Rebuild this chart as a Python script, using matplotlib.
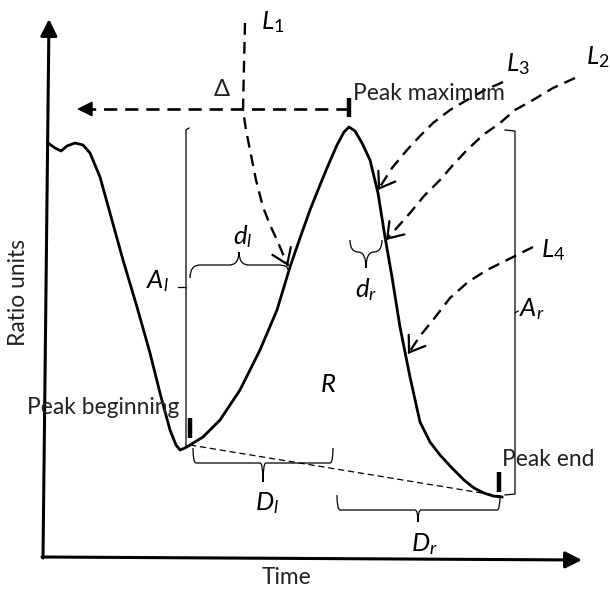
import matplotlib.pyplot as plt
from matplotlib.path import Path
from matplotlib.patches import PathPatch

# everything is laid out in picture pixels: x to the right, y downwards
W, H = 610, 592

# the ratio trace
curve_x = [48, 55, 61, 67, 75, 83, 90, 100, 110, 123, 137, 150, 160, 170, 176, 180,
           185, 190, 203, 220, 240, 260, 277, 290, 300, 310, 320, 327, 337, 344, 349,
           355, 362, 370, 378, 385, 392, 400, 410, 420, 430, 440, 452, 464, 474, 484, 493, 502]
curve_y = [143, 148, 151, 146, 143, 145, 153, 177, 213, 260, 307, 353, 393, 430, 445, 450,
           448, 445, 437, 420, 390, 350, 310, 267, 238, 210, 185, 168, 145, 132, 127,
           131, 143, 160, 193, 237, 277, 327, 377, 422, 442, 455, 468, 480, 488, 493, 496, 497]

# dashed pointer lines (start ... tip)
l1_x = [245, 244, 243, 246, 250, 256, 263, 270, 277, 288]
l1_y = [23, 65, 110, 130, 150, 180, 207, 225, 240, 266]
l2_x = [575, 553, 533, 515, 500, 483, 467, 453, 440, 424, 410, 386]
l2_y = [78, 88, 100, 110, 123, 135, 150, 165, 180, 196, 213, 240]
l3_x = [503, 485, 467, 450, 433, 420, 407, 392, 378]
l3_y = [82, 90, 100, 110, 123, 136, 150, 168, 190]
l4_x = [533, 513, 487, 468, 450, 433, 420, 408]
l4_y = [247, 257, 270, 282, 298, 320, 336, 354]

# markers: (x, y_top, y_bottom)
peak_begin = (190, 418, 438)
peak_max = (349, 98, 117)
peak_end = (499, 472, 492)

base_x = [190, 500]
base_y = [445, 496]

label_font = "Lato"
TXT = 16.4   # plain text size
SYM = 18.5   # italic symbol size
PX = 72 / 100  # points per pixel

plt.rcParams["font.family"] = [label_font, "DejaVu Sans"]
plt.rcParams["mathtext.fontset"] = "custom"
plt.rcParams["mathtext.rm"] = label_font
plt.rcParams["mathtext.it"] = label_font + ":italic"


def brace(ax, x0, x1, y_flat, y_end0, y_end1, y_tip, xm=None, r=7, lw=0.9):
    if xm is None:
        xm = (x0 + x1) / 2
    verts = [
        (x0, y_end0), (x0, y_flat), (x0 + r, y_flat),
        (xm - r, y_flat),
        (xm, y_flat), (xm, y_tip),
        (xm, y_flat), (xm + r, y_flat),
        (x1 - r, y_flat),
        (x1, y_flat), (x1, y_end1),
    ]
    codes = [Path.MOVETO, Path.CURVE3, Path.CURVE3,
             Path.LINETO,
             Path.CURVE3, Path.CURVE3,
             Path.CURVE3, Path.CURVE3,
             Path.LINETO,
             Path.CURVE3, Path.CURVE3]
    ax.add_patch(PathPatch(Path(verts, codes), fill=False, lw=lw, color="black"))


def pointer(ax, xs, ys):
    ax.plot(xs, ys, color="black", lw=1.7, linestyle=(0, (5, 3)), solid_capstyle="butt")
    dx = xs[-1] - xs[-2]
    dy = ys[-1] - ys[-2]
    n = (dx * dx + dy * dy) ** 0.5
    ax.annotate("", xy=(xs[-1], ys[-1]), xytext=(xs[-1] - dx / n * 2, ys[-1] - dy / n * 2),
                arrowprops=dict(arrowstyle="->,head_length=0.72,head_width=0.5", lw=1.6,
                                color="black", shrinkA=0, shrinkB=0, mutation_scale=20 * PX))


def solid_head(ax, tip, tail, length_px, half_px, lw):
    ax.annotate("", xy=tip, xytext=tail,
                arrowprops=dict(arrowstyle=f"-|>,head_length={length_px / 20},head_width={half_px / 20}",
                                lw=lw, color="black", shrinkA=0, shrinkB=0,
                                mutation_scale=20 * PX))


fig = plt.figure(figsize=(W / 100, H / 100), dpi=100)
ax = fig.add_axes([0, 0, 1, 1])
ax.set_xlim(0, W)
ax.set_ylim(H, 0)
ax.axis("off")

# axes with arrows
solid_head(ax, (49, 19), (43, 558), 14, 7, 2.2)
solid_head(ax, (582, 560), (42, 557), 14, 7, 2.2)
ax.text(19, 292, "Ratio units", rotation=90, ha="center", va="center", fontsize=TXT, color="#222222")
ax.text(287, 577, "Time", ha="center", va="center", fontsize=TXT, color="#222222")

# baseline and curve
ax.plot(base_x, base_y, color="black", lw=0.9, linestyle=(0, (5, 3)))
ax.plot(curve_x, curve_y, color="black", lw=2.0, solid_joinstyle="round")

# delta arrow
ax.plot([349, 88], [109, 109], color="black", lw=1.9, linestyle=(0, (5, 3)))
solid_head(ax, (77, 109), (92, 109), 13, 6.5, 1.2)
ax.text(222, 89, "Δ", ha="center", va="center", fontsize=17, color="#222222")

# markers
for mx, my0, my1 in (peak_begin, peak_max, peak_end):
    ax.plot([mx, mx], [my0, my1], color="black", lw=3.2, solid_capstyle="butt")
ax.text(27, 408, "Peak beginning", ha="left", va="center", fontsize=TXT, color="#222222")
ax.text(353, 94, "Peak maximum", ha="left", va="center", fontsize=TXT, color="#222222")
ax.text(502, 459, "Peak end", ha="left", va="center", fontsize=TXT, color="#222222")

# pointers
pointer(ax, l1_x, l1_y)
pointer(ax, l2_x, l2_y)
pointer(ax, l3_x, l3_y)
pointer(ax, l4_x, l4_y)
ax.text(273, 22, r"$L_{\mathrm{1}}$", ha="center", va="center", fontsize=SYM)
ax.text(518, 64, r"$L_{\mathrm{3}}$", ha="center", va="center", fontsize=SYM)
ax.text(598, 57, r"$L_{\mathrm{2}}$", ha="center", va="center", fontsize=SYM)
ax.text(553, 250, r"$L_{\mathrm{4}}$", ha="center", va="center", fontsize=SYM)

# vertical brackets
ax.plot([189, 186, 186], [128, 130, 447], color="black", lw=0.9)
ax.plot([178, 186], [287, 287], color="black", lw=0.9)
ax.plot([505, 515, 515, 505], [130, 131, 494, 495], color="black", lw=0.9)
ax.plot([515, 518], [313, 311], color="black", lw=0.9)
ax.text(157, 281, r"$A_l$", ha="center", va="center", fontsize=SYM)
ax.text(532, 309, r"$A_r$", ha="center", va="center", fontsize=SYM)

# horizontal braces
brace(ax, 190, 288, 265, 278, 270, 252, xm=239, r=10)
ax.text(243, 237, r"$d_l$", ha="center", va="center", fontsize=SYM)
brace(ax, 350, 382, 252, 240, 240, 268, xm=366, r=8)
ax.text(366, 290, r"$d_r$", ha="center", va="center", fontsize=SYM)
brace(ax, 193, 333, 463, 448, 448, 482, xm=263, r=3)
ax.text(267, 503, r"$D_l$", ha="center", va="center", fontsize=SYM)
brace(ax, 337, 500, 510, 495, 495, 522, xm=418, r=3)
ax.text(424, 544, r"$D_r$", ha="center", va="center", fontsize=SYM)

ax.text(328, 384, r"$R$", ha="center", va="center", fontsize=SYM)

fig.savefig("out.png", dpi=100)
